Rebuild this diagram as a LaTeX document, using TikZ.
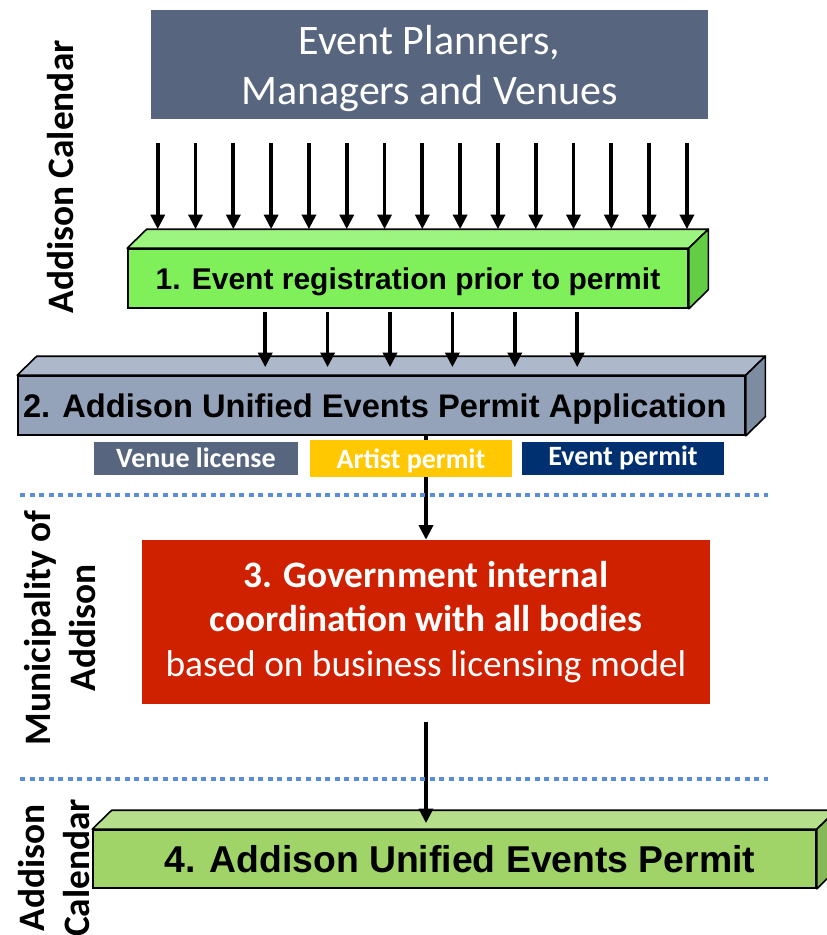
\documentclass[tikz,border=0pt]{standalone}
\usepackage{fontspec}
\setmainfont{Carlito}
\newfontfamily\arialfont{Liberation Sans}
\usetikzlibrary{arrows.meta,positioning,calc}
\definecolor{slate}{HTML}{57667E}
\definecolor{regfront}{HTML}{80F05A}
\definecolor{regtop}{HTML}{9CF57E}
\definecolor{regside}{HTML}{64CD46}
\definecolor{appfront}{HTML}{94A3BA}
\definecolor{apptop}{HTML}{ADB9CA}
\definecolor{appside}{HTML}{7D8CA1}
\definecolor{permfront}{HTML}{A0D468}
\definecolor{permtop}{HTML}{B6DF8B}
\definecolor{permside}{HTML}{86B857}
\definecolor{artistgold}{HTML}{FFC800}
\definecolor{eventnavy}{HTML}{003070}
\definecolor{govred}{HTML}{CF2000}
\definecolor{sepblue}{HTML}{5B8ED6}
% top and side faces of a slab drawn behind a named front node
\newcommand{\slabfaces}[3]{%
  \filldraw[fill=#2,draw=black,line width=1.2pt,line join=round] (#1.north west) -- ++(19.5,-19) -- ([shift={(19.5,-19)}]#1.north east) -- (#1.north east) -- cycle;
  \filldraw[fill=#3,draw=black,line width=1.2pt,line join=round] (#1.north east) -- ++(19.5,-19) -- ([shift={(19.5,-19)}]#1.south east) -- (#1.south east) -- cycle;
}
\begin{document}
\begin{tikzpicture}[x=0.75pt,y=-0.75pt,
    arr/.style={line width=2.8pt,-{Triangle[width=10.5pt,length=11pt]}},
    slab/.style={draw=black,line width=1.2pt,inner sep=0pt,text depth=0pt,font=\arialfont\bfseries},
    tag/.style={inner sep=0pt,text=white,font=\bfseries\fontsize{21}{25}\selectfont},
    divider/.style={draw=sepblue,line width=3pt,dash pattern=on 3.75pt off 3.4pt},
    sidetext/.style={rotate=90,align=center,font=\bfseries\fontsize{28}{33.5}\selectfont}]
  \useasboundingbox (0,0) rectangle (826,935);
  % source
  \node[fill=slate,text=white,minimum width=417.75pt,minimum height=81.75pt,align=center,text depth=-8pt,
        font=\fontsize{31.5}{37.5}\selectfont] (planners) at (429.5,64.5) {Event Planners,\\Managers and Venues};
  % step 1
  \node[slab,fill=regfront,minimum width=420pt,minimum height=44.25pt,
        font=\arialfont\bfseries\fontsize{22.5}{27}\selectfont] (register) at (408,278.5) {1. Event registration prior to permit};
  \slabfaces{register}{regtop}{regside}
  \coordinate (registertop) at ($(register.north)+(0,-19)$);
  \foreach \x in {0,...,14} {
    \draw[arr] ($(planners.south west)+(7+37.8*\x,24)$) coordinate (src) -- (src |- registertop);
  }
  % step 2
  \node[slab,fill=appfront,minimum width=545.25pt,minimum height=44.25pt,
        font=\arialfont\bfseries\fontsize{24.5}{29}\selectfont] (apply) at (381.5,405.5) {2. Addison Unified Events Permit Application\hspace*{10pt}};
  \slabfaces{apply}{apptop}{appside}
  \foreach \x in {0,...,5} {
    \draw[arr] ($(register.south west)+(138+62.4*\x,3)$) coordinate (src) -- ([yshift=6pt]src |- apply.north);
  }
  % step 3
  \node[fill=govred,text=white,minimum width=426pt,minimum height=123pt,align=center,
        font=\fontsize{28}{33.5}\selectfont] (govern) at (426,622)
        {\bfseries 3. Government internal\\\bfseries coordination with all bodies\\based on business licensing model};
  \draw[arr] (apply.south -| govern.north) -- (govern.north);
  % permit types
  \node[tag,fill=slate,minimum width=153pt,minimum height=24.75pt] (venue) at (196,458) {Venue license};
  \node[tag,fill=artistgold,minimum width=151.5pt,minimum height=27.75pt,text depth=-2pt] (artist) at (411,458.5) {Artist permit};
  \node[tag,fill=eventnavy,minimum width=151.5pt,minimum height=24.75pt] (eventp) at (623,458) {Event permit};
  % step 4
  \node[slab,fill=permfront,minimum width=542.25pt,minimum height=43.5pt,
        font=\arialfont\bfseries\fontsize{28}{33}\selectfont] (permit) at (454.5,859) {\hspace*{8pt}4. Addison Unified Events Permit};
  \slabfaces{permit}{permtop}{permside}
  \draw[arr] ([yshift=-13.5pt]govern.south) -- ([yshift=4.5pt]govern.south |- permit.north);
  % separators
  \draw[divider] (20,495) -- (768,495);
  \draw[divider] (20,779) -- (768,779);
  % side captions
  \node[sidetext] (calendartop) at (61,177) {Addison Calendar};
  \node[sidetext] (municipality) at (60,628) {Municipality of\\Addison};
  \node[sidetext] (calendarbottom) at (54,868) {Addison\\Calendar};
\end{tikzpicture}
\end{document}
